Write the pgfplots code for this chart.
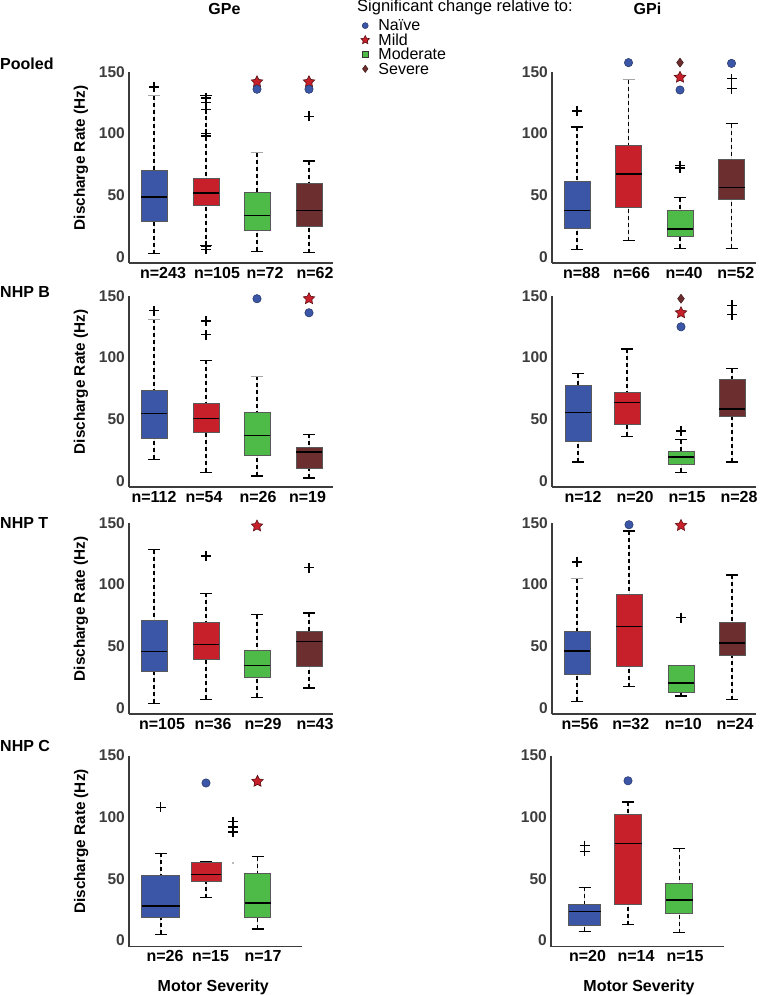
\documentclass[border=0pt]{standalone}
\usepackage{fontspec}
\setmainfont{Liberation Sans}
\usepackage{pgfplots}
\pgfplotsset{compat=1.18}
\usepgfplotslibrary{statistics}

\definecolor{cBlue}{RGB}{59,86,166}
\definecolor{cRed}{RGB}{200,32,42}
\definecolor{cGreen}{RGB}{78,186,72}
\definecolor{cBrown}{RGB}{108,46,46}
\definecolor{axgray}{RGB}{60,60,60}

% filled five-pointed star
\pgfdeclareplotmark{fstar}{%
  \pgfpathmoveto{\pgfpointpolar{90}{\pgfplotmarksize}}%
  \pgfpathlineto{\pgfpointpolar{126}{0.5\pgfplotmarksize}}%
  \pgfpathlineto{\pgfpointpolar{162}{\pgfplotmarksize}}%
  \pgfpathlineto{\pgfpointpolar{198}{0.5\pgfplotmarksize}}%
  \pgfpathlineto{\pgfpointpolar{234}{\pgfplotmarksize}}%
  \pgfpathlineto{\pgfpointpolar{270}{0.5\pgfplotmarksize}}%
  \pgfpathlineto{\pgfpointpolar{306}{\pgfplotmarksize}}%
  \pgfpathlineto{\pgfpointpolar{342}{0.5\pgfplotmarksize}}%
  \pgfpathlineto{\pgfpointpolar{18}{\pgfplotmarksize}}%
  \pgfpathlineto{\pgfpointpolar{54}{0.5\pgfplotmarksize}}%
  \pgfpathclose
  \pgfusepathqfillstroke
}

\newcommand\fb{\fontsize{16}{16}\selectfont\bfseries}

\pgfkeys{/pgfplots/boxplot/capcolor/.initial=black}

\pgfplotsset{
  /pgfplots/boxplot/draw/mywhisk/.code n args={3}{%
    \draw[black, line width=1.4pt, dash pattern=on 4pt off 3pt]
      (boxplot whisker cs:#1,0.5) -- (boxplot whisker cs:#2,0.5);
    \draw[line width=1.3pt, draw=#3]
      (boxplot whisker cs:#1,0) -- (boxplot whisker cs:#1,1);
  },
  panel/.style={
    scale only axis, height=191pt, ymin=-5, ymax=150, xmin=0, clip=false,
    axis x line*=bottom, axis y line*=left,
    axis line style={draw=axgray, line width=1.2pt},
    ytick={0,50,100,150}, major tick length=0pt,
    /pgf/number format/assume math mode=true,
    yticklabel style={font=\fontsize{15.5}{16}\selectfont\bfseries, text=axgray,
      inner sep=0pt, xshift=-4pt},
    xticklabel style={font=\fb, inner sep=0pt, yshift=-4pt, anchor=north},
    boxplot/draw direction=y,
    boxplot/box extend=26, boxplot/whisker extend=12,
    boxplot/every median/.style={draw=black, line width=1.4pt},
    boxplot/draw/lower whisker/.style={/pgfplots/boxplot/draw/mywhisk=
      {\pgfkeysvalueof{/pgfplots/boxplot/lower whisker}}
      {\pgfkeysvalueof{/pgfplots/boxplot/lower quartile}}
      {black}},
    boxplot/draw/upper whisker/.style={/pgfplots/boxplot/draw/mywhisk=
      {\pgfkeysvalueof{/pgfplots/boxplot/upper whisker}}
      {\pgfkeysvalueof{/pgfplots/boxplot/upper quartile}}
      {\pgfkeysvalueof{/pgfplots/boxplot/capcolor}}},
  },
  ylab/.style={ylabel={Discharge Rate (Hz)},
    ylabel style={at={(axis description cs:#1,0.55)}, anchor=center,
      font=\fontsize{15.3}{16}\selectfont\bfseries},
  },
  bx/.style={fill=#1, draw=black!65, line width=1pt, /pgfplots/boxplot/capcolor=black},
  graycap/.style={/pgfplots/boxplot/capcolor=black!35},
  outl/.style={only marks, mark=+, mark size=5pt, black, line width=1.3pt},
  naive/.style={only marks, mark=*, mark size=4.2pt,
    mark options={fill=cBlue, draw=cBlue!60!black, line width=0.5pt}},
  mild/.style={only marks, mark=fstar, mark size=6pt,
    mark options={fill=cRed, draw=cRed!45!black, line width=0.6pt}},
  moder/.style={only marks, mark=square*, mark size=3.5pt,
    mark options={fill=cGreen, draw=black!80, line width=0.6pt}},
  sev/.style={only marks, mark=diamond*, mark size=4.5pt,
    mark options={fill=cBrown, draw=cBrown!60!black, line width=0.5pt}},
}

\begin{document}
\begin{tikzpicture}
\path[use as bounding box] (0,0) rectangle (760pt,-995pt);

% ================= Pooled, GPe
\begin{axis}[panel, at={(129pt,-263pt)}, anchor=south west, width=204pt, xmax=204,
  ylab=-0.235,
  xtick={34,88,136,186}, xticklabels={n=243,n=105,n=72,n=62},
  legend style={at={(axis description cs:1.135,1.27)}, anchor=north west,
    draw=none, fill=none, inner sep=0pt, outer sep=0pt, row sep=0pt,
    font=\fontsize{16}{16}\selectfont,
    nodes={inner sep=0pt, text height=10.5pt, text depth=3.9pt},
    /tikz/every odd column/.append style={column sep=8.5pt}},
  legend cell align=left,
  legend image code/.code={\path (-4.5pt,0pt) (4.5pt,0pt); \draw[#1] plot coordinates {(0pt,2pt)};},
]
\addlegendimage{naive, mark size=3pt}\addlegendentry{Naïve}
\addlegendimage{mild, mark size=4.5pt}\addlegendentry{Mild}
\addlegendimage{moder, mark size=2.8pt}\addlegendentry{Moderate}
\addlegendimage{sev, mark size=3.6pt}\addlegendentry{Severe}
\addplot[bx=cBlue, graycap, boxplot prepared={draw position=25, lower whisker=2.7, lower quartile=29, median=48.7, upper quartile=70.4, upper whisker=130.8}] coordinates {};
\addplot[bx=cRed, boxplot prepared={draw position=77, lower whisker=9, lower quartile=42, median=51.7, upper quartile=63.6, upper whisker=131}] coordinates {};
\addplot[bx=cGreen, graycap, boxplot prepared={draw position=128, lower whisker=4.6, lower quartile=21.4, median=33.6, upper quartile=52, upper whisker=84.5}] coordinates {};
\addplot[bx=cBrown, boxplot prepared={draw position=180, lower whisker=3.5, lower quartile=24.6, median=37.4, upper quartile=59.3, upper whisker=77.7}] coordinates {};
\addplot[outl] coordinates {(25,137.8) (77,129) (77,125) (77,119.7) (77,100) (77,98) (77,8.7) (77,6) (180,114)};
\addplot[mild] coordinates {(128,142) (180,142)};
\addplot[naive] coordinates {(128,136) (180,136)};
\end{axis}

% ================= Pooled, GPi
\begin{axis}[panel, at={(552pt,-263pt)}, anchor=south west, width=204pt, xmax=204,
  xtick={29.5,79.5,132,183.7}, xticklabels={n=88,n=66,n=40,n=52}]
\addplot[bx=cBlue, boxplot prepared={draw position=25, lower whisker=6, lower quartile=23.3, median=37.4, upper quartile=61.5, upper whisker=105.3}] coordinates {};
\addplot[bx=cRed, graycap, boxplot prepared={draw position=76.5, lower whisker=13, lower quartile=39.8, median=67.2, upper quartile=90.2, upper whisker=143.8}] coordinates {};
\addplot[bx=cGreen, boxplot prepared={draw position=128, lower whisker=6.8, lower quartile=16.5, median=22.7, upper quartile=37.4, upper whisker=48}] coordinates {};
\addplot[bx=cBrown, boxplot prepared={draw position=179.5, lower whisker=6.8, lower quartile=46.6, median=56.3, upper quartile=79.3, upper whisker=108}] coordinates {};
\addplot[outl] coordinates {(25,118.3) (128,74) (128,72) (179.5,144.6) (179.5,136.5)};
\addplot[sev] coordinates {(128,157.6)};
\addplot[mild] coordinates {(128,145.7)};
\addplot[naive] coordinates {(76.5,157.6) (128,135.4) (179.5,157)};
\end{axis}

% ================= NHP B, GPe
\begin{axis}[panel, at={(129pt,-487pt)}, anchor=south west, width=204pt, xmax=204,
  ylab=-0.235,
  xtick={25,75,129,178.5}, xticklabels={n=112,n=54,n=26,n=19}]
\addplot[bx=cBlue, graycap, boxplot prepared={draw position=25, lower whisker=17.6, lower quartile=34.7, median=54.5, upper quartile=73.2, upper whisker=131}] coordinates {};
\addplot[bx=cRed, boxplot prepared={draw position=77, lower whisker=7, lower quartile=39.3, median=50.4, upper quartile=62.6, upper whisker=97.9}] coordinates {};
\addplot[bx=cGreen, graycap, boxplot prepared={draw position=128, lower whisker=4, lower quartile=20.6, median=36.9, upper quartile=55.6, upper whisker=84.9}] coordinates {};
\addplot[bx=cBrown, boxplot prepared={draw position=180, lower whisker=2.2, lower quartile=9.8, median=23.3, upper quartile=27, upper whisker=37.7}] coordinates {};
\addplot[outl] coordinates {(25,138) (77,129.6) (77,118.5)};
\addplot[mild] coordinates {(180,147.8)};
\addplot[naive] coordinates {(128,147.8) (180,136.4)};
\end{axis}

% ================= NHP B, GPi
\begin{axis}[panel, at={(552pt,-487pt)}, anchor=south west, width=204pt, xmax=204,
  xtick={31,83,135,187}, xticklabels={n=12,n=20,n=15,n=28}]
\addplot[bx=cBlue, boxplot prepared={draw position=26, lower whisker=15.2, lower quartile=32.3, median=55.6, upper quartile=77, upper whisker=87}] coordinates {};
\addplot[bx=cRed, boxplot prepared={draw position=75, lower whisker=36, lower quartile=46.1, median=63.7, upper quartile=71.9, upper whisker=107}] coordinates {};
\addplot[bx=cGreen, boxplot prepared={draw position=129, lower whisker=7, lower quartile=13.6, median=19.3, upper quartile=23.9, upper whisker=33.4}] coordinates {};
\addplot[bx=cBrown, boxplot prepared={draw position=180, lower whisker=15.2, lower quartile=52.6, median=58.3, upper quartile=81.9, upper whisker=90.9}] coordinates {};
\addplot[outl] coordinates {(129,40.4) (180,142.4) (180,134.9)};
\addplot[sev] coordinates {(129,147.8)};
\addplot[mild] coordinates {(129,136.4)};
\addplot[naive] coordinates {(129,125)};
\end{axis}

% ================= NHP T, GPe
\begin{axis}[panel, at={(129pt,-714pt)}, anchor=south west, width=204pt, xmax=204,
  ylab=-0.235,
  xtick={33,84,134,186}, xticklabels={n=105,n=36,n=29,n=43}]
\addplot[bx=cBlue, boxplot prepared={draw position=25, lower whisker=3.8, lower quartile=29.5, median=45.9, upper quartile=70.8, upper whisker=128.4}] coordinates {};
\addplot[bx=cRed, boxplot prepared={draw position=77, lower whisker=6.8, lower quartile=38.9, median=51.4, upper quartile=69.2, upper whisker=93}] coordinates {};
\addplot[bx=cGreen, boxplot prepared={draw position=128, lower whisker=8.6, lower quartile=24.3, median=34.6, upper quartile=46.5, upper whisker=75.7}] coordinates {};
\addplot[bx=cBrown, boxplot prepared={draw position=180, lower whisker=16.2, lower quartile=33.2, median=54, upper quartile=61.9, upper whisker=77}] coordinates {};
\addplot[outl] coordinates {(77,123.2) (180,113.8)};
\addplot[mild] coordinates {(128,147.6)};
\end{axis}

% ================= NHP T, GPi
\begin{axis}[panel, at={(552pt,-714pt)}, anchor=south west, width=204pt, xmax=204,
  xtick={28,78.7,131.3,183}, xticklabels={n=56,n=32,n=10,n=24}]
\addplot[bx=cBlue, graycap, boxplot prepared={draw position=25, lower whisker=5.4, lower quartile=27.3, median=46.2, upper quartile=61.9, upper whisker=104.9}] coordinates {};
\addplot[bx=cRed, boxplot prepared={draw position=77, lower whisker=17.3, lower quartile=33.2, median=66.2, upper quartile=91.6, upper whisker=143.5}] coordinates {};
\addplot[bx=cGreen, boxplot prepared={draw position=129, lower whisker=9.5, lower quartile=12.4, median=20.3, upper quartile=34.3, upper whisker=34.3}] coordinates {};
\addplot[bx=cBrown, boxplot prepared={draw position=180, lower whisker=6.5, lower quartile=42.7, median=52.7, upper quartile=68.9, upper whisker=107.8}] coordinates {};
\addplot[outl] coordinates {(25,118.4) (129,73.2)};
\addplot[mild] coordinates {(129,148)};
\addplot[naive] coordinates {(77,148.6)};
\end{axis}

% ================= NHP C, GPe
\begin{axis}[panel, at={(129pt,-946.5pt)}, anchor=south west, width=173pt, xmax=173,
  ylab=-0.277,
  xtick={36,81.5,134}, xticklabels={n=26,n=15,n=17}]
\addplot[bx=cBlue, boxplot prepared={draw position=31.8, box extend=38, lower whisker=4.8, lower quartile=18.3, median=28, upper quartile=52.8, upper whisker=70.6}] coordinates {};
\addplot[bx=cRed, boxplot prepared={draw position=77, box extend=30, lower whisker=34.5, lower quartile=47.4, median=53.6, upper quartile=62.8, upper whisker=63.5}] coordinates {};
\addplot[bx=cGreen, boxplot prepared={draw position=128.5, lower whisker=9.2, lower quartile=18.3, median=30.4, upper quartile=54.1, upper whisker=67.9}] coordinates {};
\addplot[outl] coordinates {(31.8,108) (104,96.2) (104,92.1) (104,88)};
\addplot[only marks, mark=*, mark size=0.6pt, black!45] coordinates {(104,62.8)};
\addplot[mild] coordinates {(128.5,129)};
\addplot[naive] coordinates {(77,127.7)};
\end{axis}

% ================= NHP C, GPi
\begin{axis}[panel, at={(551pt,-946.5pt)}, anchor=south west, width=172.6pt, xmax=172.6,
  xtick={36.5,85,134}, xticklabels={n=20,n=14,n=15}]
\addplot[bx=cBlue, boxplot prepared={draw position=33.5, box extend=32, lower whisker=7.3, lower quartile=12.4, median=23.4, upper quartile=28.8, upper whisker=43.1}] coordinates {};
\addplot[bx=cRed, boxplot prepared={draw position=77, box extend=27, lower whisker=12.7, lower quartile=28.8, median=78.6, upper quartile=101.8, upper whisker=112.3}] coordinates {};
\addplot[bx=cGreen, boxplot prepared={draw position=128.3, box extend=27, lower whisker=6.2, lower quartile=22.1, median=32.9, upper quartile=45.8, upper whisker=74.6}] coordinates {};
\addplot[outl] coordinates {(33.5,76.8) (33.5,72.2)};
\addplot[naive] coordinates {(77,129.5)};
\end{axis}

% ---------- titles and row labels
\node[font=\fb] at (224.5pt,-9pt) {GPe};
\node[font=\fb] at (647.5pt,-9pt) {GPi};
\node[font=\fontsize{16.5}{16.5}\selectfont, anchor=base west, inner sep=0pt] at (357pt,-12pt) {Significant change relative to:};
\node[font=\fb, anchor=west, inner sep=0pt] at (0pt,-63.5pt) {Pooled};
\node[font=\fb, anchor=west, inner sep=0pt] at (0pt,-291.7pt) {NHP B};
\node[font=\fb, anchor=west, inner sep=0pt] at (0pt,-523pt) {NHP T};
\node[font=\fb, anchor=west, inner sep=0pt] at (0pt,-746pt) {NHP C};
\node[font=\fb, anchor=base, inner sep=0pt] at (213.3pt,-991pt) {Motor Severity};
\node[font=\fb, anchor=base, inner sep=0pt] at (639pt,-991pt) {Motor Severity};
\end{tikzpicture}
\end{document}
